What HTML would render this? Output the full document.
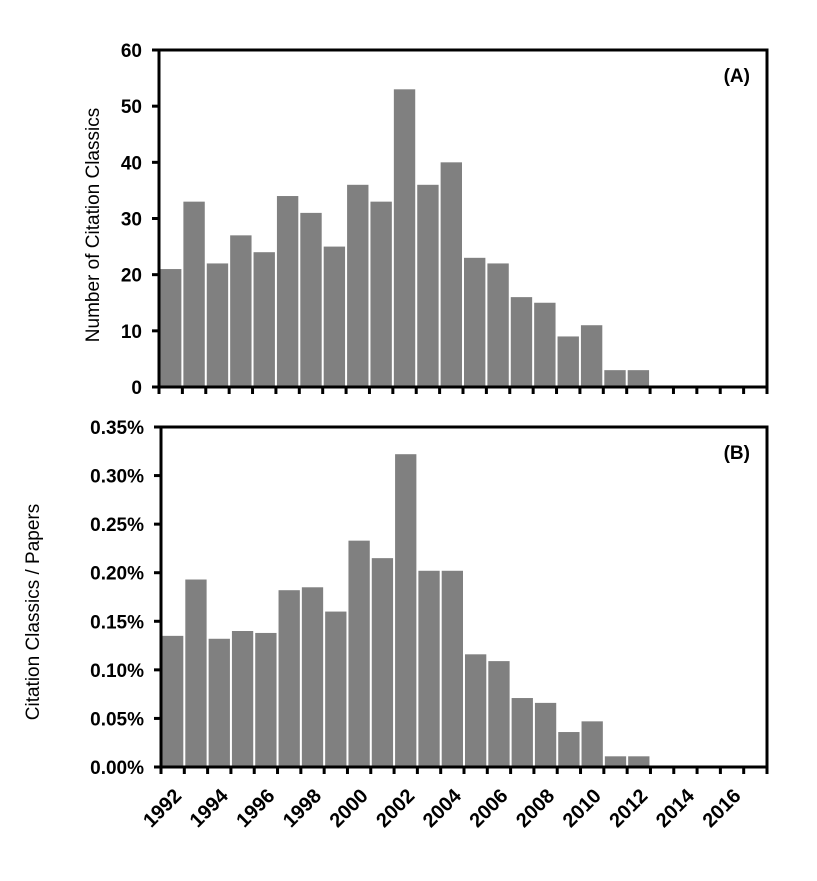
<!DOCTYPE html>
<html><head><meta charset="utf-8"><style>
html,body{margin:0;padding:0;background:#fff;}
svg text{font-family:"Liberation Sans",sans-serif;}
</style></head><body>
<svg id="s" width="817" height="876" xmlns="http://www.w3.org/2000/svg"></svg>
<script>
const s=document.getElementById('s');
const NS='http://www.w3.org/2000/svg';
function el(t,a,txt){const e=document.createElementNS(NS,t);for(const k in a)e.setAttribute(k,a[k]);if(txt!==undefined)e.textContent=txt;s.appendChild(e);return e;}
const A=[21,33,22,27,24,34,31,25,36,33,53,36,40,23,22,16,15,9,11,3,3];
const B=[0.135,0.193,0.132,0.140,0.138,0.182,0.185,0.160,0.233,0.215,0.322,0.202,0.202,0.116,0.109,0.071,0.066,0.036,0.047,0.011,0.011];
function chart(L,R,T,Bot,max,step,data,fmt,label,tag,lx,ly){
  const w=(R-L)/26, h=Bot-T;
  data.forEach((v,i)=>{const y=Bot-v/max*h;el('rect',{x:L+i*w+1,y:y,width:w-2,height:Bot-y,fill:'#808080'});});
  el('rect',{x:L,y:T,width:R-L,height:h,fill:'none',stroke:'#000','stroke-width':3});
  for(let i=0;i<=26;i++){const x=L+i*w;el('line',{x1:x,y1:Bot,x2:x,y2:Bot+7,stroke:'#000','stroke-width':3});}
  for(let v=0;v<=max+1e-9;v+=step){const y=Bot-v/max*h;el('line',{x1:L-7,y1:y,x2:L,y2:y,stroke:'#000','stroke-width':3});
    el('text',{x:L-17,y:y+7,'text-anchor':'end','font-size':19,'font-weight':'bold'},fmt(v));}
  el('text',{x:0,y:0,transform:`translate(${lx},${ly}) rotate(-90)`,'text-anchor':'middle','font-size':19},label);
  el('text',{x:R-17,y:T+32,'text-anchor':'end','font-size':19,'font-weight':'bold'},tag);
}
chart(159,767,50,387,60,10,A,v=>Math.round(v),'Number of Citation Classics','(A)',99,225);
chart(161,767,427,767,0.35,0.05,B,v=>v.toFixed(2)+'%','Citation Classics / Papers','(B)',39,612);
const w=(767-161)/26;
for(let i=0;i<13;i++){const yr=1992+2*i;const x=161+(2*i+0.5)*w+10;
  el('text',{x:0,y:0,transform:`translate(${x},${797}) rotate(-45)`,'text-anchor':'end','font-size':20,'font-weight':'bold'},yr);}
</script>
</body></html>
